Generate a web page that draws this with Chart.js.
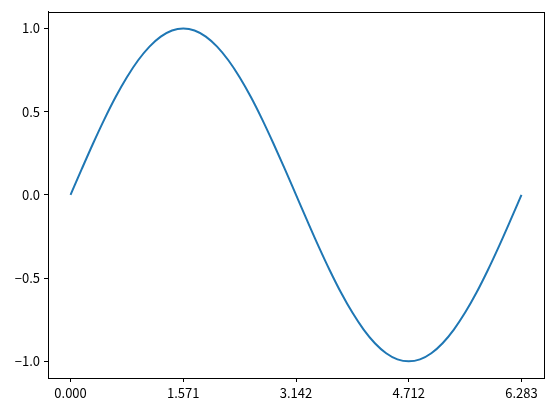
<!DOCTYPE html>
<html lang="en">
<head>
    <meta charset="UTF-8">
    <title>Sine</title>
    <script src="https://cdn.jsdelivr.net/npm/chart.js"></script>
    <style>
        body { margin: 0; padding: 0; background: white; }
        #wrap { width: 553px; height: 412px; }
    </style>
</head>
<body>
    <div id="wrap"><canvas id="sineChart" width="553" height="412"></canvas></div>
    <script>
        // values
        const xValues = [0, 0.157, 0.314, 0.471, 0.628, 0.785, 0.942, 1.100, 1.257, 1.414,
            1.571, 1.728, 1.885, 2.042, 2.199, 2.356, 2.513, 2.670, 2.827, 2.985,
            3.142, 3.299, 3.456, 3.613, 3.770, 3.927, 4.084, 4.241, 4.398, 4.555,
            4.712, 4.869, 5.027, 5.184, 5.341, 5.498, 5.655, 5.812, 5.969, 6.126, 6.283];
        const yValues = [0, 0.156, 0.309, 0.454, 0.588, 0.707, 0.809, 0.891, 0.951, 0.988,
            1.0, 0.988, 0.951, 0.891, 0.809, 0.707, 0.588, 0.454, 0.309, 0.156,
            0, -0.156, -0.309, -0.454, -0.588, -0.707, -0.809, -0.891, -0.951, -0.988,
            -1.0, -0.988, -0.951, -0.891, -0.809, -0.707, -0.588, -0.454, -0.309, -0.156, 0];
        const xTicks = [0, 1.5708, 3.1416, 4.7124, 6.2832];
        const xTickLabels = ['0.000', '1.571', '3.142', '4.712', '6.283'];
        const yTicks = [-1.0, -0.5, 0.0, 0.5, 1.0];
        const yTickLabels = ['\u22121.0', '\u22120.5', '0.0', '0.5', '1.0'];

        const points = xValues.map((x, i) => ({ x: x, y: yValues[i] }));
        const font = { family: "'Noto Sans CJK JP', 'DejaVu Sans', sans-serif", size: 13 };

        // box around the plot area, like matplotlib spines
        const frame = {
            id: 'frame',
            afterDraw(chart) {
                const a = chart.chartArea;
                const ctx = chart.ctx;
                ctx.save();
                ctx.strokeStyle = '#000';
                ctx.lineWidth = 1;
                ctx.strokeRect(Math.round(a.left) + 0.5, Math.round(a.top) + 0.5,
                    Math.round(a.right - a.left), Math.round(a.bottom - a.top));
                ctx.restore();
            }
        };

        new Chart(document.getElementById('sineChart').getContext('2d'), {
            type: 'line',
            data: {
                datasets: [{
                    data: points,
                    borderColor: '#1f77b4',
                    borderWidth: 2,
                    pointRadius: 0,
                    fill: false,
                    cubicInterpolationMode: 'monotone'
                }]
            },
            options: {
                responsive: false,
                animation: false,
                layout: { padding: { top: 10, right: 9, left: 0, bottom: 0 } },
                plugins: { legend: { display: false }, tooltip: { enabled: false } },
                scales: {
                    x: {
                        type: 'linear',
                        min: -0.314,
                        max: 6.597,
                        afterBuildTicks: axis => { axis.ticks = xTicks.map(v => ({ value: v })); },
                        afterFit: axis => { axis.height = 34; },
                        ticks: {
                            color: '#000',
                            font: font,
                            padding: 3,
                            maxRotation: 0,
                            callback: (v, i) => xTickLabels[i]
                        },
                        grid: { drawOnChartArea: false, color: '#000', tickLength: 4 },
                        border: { color: '#000' }
                    },
                    y: {
                        min: -1.1,
                        max: 1.1,
                        afterBuildTicks: axis => { axis.ticks = yTicks.map(v => ({ value: v })); },
                        afterFit: axis => { axis.width = 48; },
                        ticks: {
                            color: '#000',
                            font: font,
                            padding: 4,
                            callback: (v, i) => yTickLabels[i]
                        },
                        grid: { drawOnChartArea: false, color: '#000', tickLength: 4 },
                        border: { color: '#000' }
                    }
                }
            },
            plugins: [frame]
        });
    </script>
</body>
</html>
